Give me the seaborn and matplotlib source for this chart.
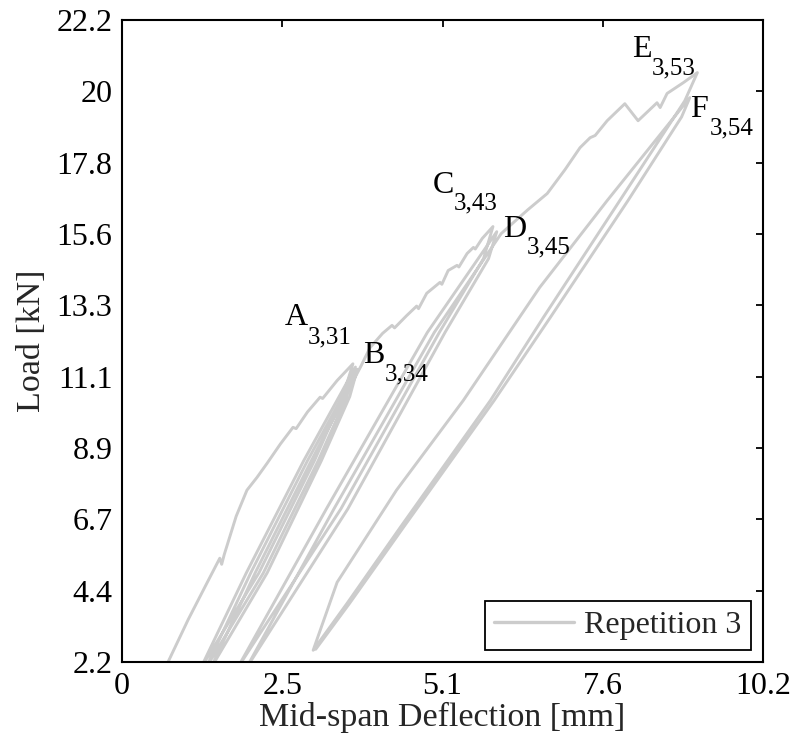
import numpy as np
import pandas as pd
import matplotlib
matplotlib.use("Agg")
import matplotlib.pyplot as plt
import seaborn as sns

sns.set_theme(style="white")
plt.rcParams['font.family'] = ['Liberation Serif', 'DejaVu Serif']

# ---------------- data ----------------
# envelope from origin to A (cycle 31)
env_OA_x = [0.70, 1.05, 1.35, 1.55, 1.58, 1.62, 1.81, 1.98, 2.14, 2.30, 2.51, 2.71, 2.76, 2.94, 3.14, 3.18, 3.41, 3.66]
env_OA_y = [2.10, 3.55, 4.70, 5.46, 5.27, 5.57, 6.77, 7.58, 7.98, 8.42, 9.02, 9.54, 9.50, 10.02, 10.48, 10.44, 11.00, 11.52]

# cycles A -> B (31 -> 34)
unl_31_x = [3.66, 3.50, 3.05, 2.17, 1.24]
unl_31_y = [11.52, 10.50, 8.50, 5.00, 2.00]
rel_32_x = [1.24, 1.97, 2.88, 3.70]
rel_32_y = [2.00, 5.00, 8.50, 11.42]
unl_32_x = [3.70, 3.56, 3.11, 2.24, 1.32]
unl_32_y = [11.42, 10.50, 8.50, 5.00, 2.00]
rel_33_x = [1.32, 2.04, 2.94, 3.73]
rel_33_y = [2.00, 5.00, 8.50, 11.35]
unl_33_x = [3.73, 3.61, 3.16, 2.30, 1.40]
unl_33_y = [11.35, 10.50, 8.50, 5.00, 2.00]
rel_34_x = [1.40, 2.11, 3.00, 3.78]
rel_34_y = [2.00, 5.00, 8.50, 11.42]

# envelope B -> C (34 -> 43)
env_BC_x = [3.78, 3.93, 4.13, 4.28, 4.32, 4.51, 4.67, 4.70, 4.83, 5.04, 5.07, 5.17, 5.31, 5.34, 5.47, 5.57, 5.60, 5.71, 5.88]
env_BC_y = [11.42, 12.02, 12.47, 12.72, 12.64, 13.02, 13.32, 13.24, 13.72, 14.06, 14.00, 14.43, 14.59, 14.54, 14.96, 15.15, 15.10, 15.43, 15.80]

# cycles C -> D (43 -> 45)
unl_43_x = [5.88, 5.73, 5.03, 3.47, 1.82]
unl_43_y = [15.80, 14.80, 12.50, 7.00, 2.00]
rel_44_x = [1.82, 3.24, 4.84, 5.94]
rel_44_y = [2.00, 7.00, 12.50, 15.64]
unl_44_x = [5.94, 5.81, 5.12, 3.58, 1.96]
unl_44_y = [15.64, 14.80, 12.50, 7.00, 2.00]
rel_45_x = [1.96, 3.36, 4.95, 6.01]
rel_45_y = [2.00, 7.00, 12.50, 15.58]

# envelope D -> E (45 -> 53)
env_DE_x = [6.01, 6.23, 6.43, 6.74, 7.02, 7.26, 7.42, 7.50, 7.69, 7.97, 8.18, 8.48, 8.53, 8.64, 8.90, 9.12]
env_DE_y = [15.58, 15.97, 16.32, 16.83, 17.57, 18.26, 18.57, 18.64, 19.10, 19.63, 19.10, 19.66, 19.51, 19.95, 20.29, 20.60]

# cycle E -> F (53 -> 54)
unl_53_x = [9.12, 8.92, 7.89, 6.68, 5.84, 4.41, 3.57, 3.03]
unl_53_y = [20.60, 19.72, 16.61, 12.97, 10.38, 6.42, 4.06, 2.59]
rel_54_x = [3.03, 3.41, 4.35, 5.41, 6.62, 7.69, 9.00]
rel_54_y = [2.59, 4.71, 7.58, 10.38, 13.90, 16.61, 19.82]
unl_54_x = [9.00, 8.87, 8.02, 6.79, 5.90, 4.46, 3.61, 3.07]
unl_54_y = [19.82, 19.22, 16.61, 12.97, 10.38, 6.42, 4.06, 2.62]

segments = [
    (env_OA_x, env_OA_y), (unl_31_x, unl_31_y), (rel_32_x, rel_32_y),
    (unl_32_x, unl_32_y), (rel_33_x, rel_33_y), (unl_33_x, unl_33_y),
    (rel_34_x, rel_34_y), (env_BC_x, env_BC_y), (unl_43_x, unl_43_y),
    (rel_44_x, rel_44_y), (unl_44_x, unl_44_y), (rel_45_x, rel_45_y),
    (env_DE_x, env_DE_y), (unl_53_x, unl_53_y), (rel_54_x, rel_54_y),
    (unl_54_x, unl_54_y),
]

x_ticks = [0, 2.54, 5.08, 7.62, 10.16]
x_ticklabels = ['0', '2.5', '5.1', '7.6', '10.2']
y_ticks = [2.224, 4.448, 6.672, 8.896, 11.12, 13.344, 15.568, 17.792, 20.016, 22.24]
y_ticklabels = ['2.2', '4.4', '6.7', '8.9', '11.1', '13.3', '15.6', '17.8', '20', '22.2']

point_letters = ['A', 'B', 'C', 'D', 'E', 'F']
point_subs = ['3,31', '3,34', '3,43', '3,45', '3,53', '3,54']
letter_pos = [(2.584, 12.73), (3.820, 11.55), (4.929, 16.85), (6.039, 15.48), (8.084, 21.09), (9.003, 19.22)]
sub_pos = [(2.948, 12.17), (4.169, 10.99), (5.262, 16.32), (6.419, 14.95), (8.401, 20.53), (9.320, 18.66)]

# ---------------- build table ----------------
xs, ys = [], []
for sx, sy in segments:
    xs.extend(sx)
    ys.extend(sy)
df = pd.DataFrame({'Mid-span Deflection [mm]': xs, 'Load [kN]': ys})

# ---------------- plot ----------------
fig = plt.figure(figsize=(7.93, 7.40), dpi=100)
ax = fig.add_axes([122/793, 78/740, 641/793, 642/740])

LW = 2.1
sns.lineplot(data=df, x='Mid-span Deflection [mm]', y='Load [kN]', sort=False,
             estimator=None, color='#cccccc', lw=LW, label='Repetition 3', ax=ax)

ax.set_xlim(0, 10.16)
ax.set_ylim(2.224, 22.24)
ax.set_xticks(x_ticks)
ax.set_xticklabels(x_ticklabels)
ax.set_yticks(y_ticks)
ax.set_yticklabels(y_ticklabels)

FS = 23
ax.tick_params(direction='in', length=5, width=1.3, top=True, right=True,
               labelsize=FS, colors='black', pad=7)
for sp in ax.spines.values():
    sp.set_color('black')
    sp.set_linewidth(1.5)

ax.set_xlabel('Mid-span Deflection [mm]', fontsize=24.5, labelpad=1)
ax.set_ylabel('Load [kN]', fontsize=24.5, labelpad=7)

for L, S, (lx, ly), (sx, sy) in zip(point_letters, point_subs, letter_pos, sub_pos):
    ax.text(lx, ly, L, fontsize=FS, ha='left', va='baseline', color='black')
    ax.text(sx, sy, S, fontsize=18, ha='left', va='baseline', color='black')

leg = ax.legend(loc='lower right', fontsize=FS, frameon=True, fancybox=False,
                edgecolor='black', framealpha=1, borderpad=0.3, borderaxespad=0.38,
                handlelength=2.5, handletextpad=0.3)
leg.get_frame().set_linewidth(1.3)
for h in leg.get_lines():
    h.set_linewidth(LW + 0.3)

fig.savefig('out.png', dpi=100)
